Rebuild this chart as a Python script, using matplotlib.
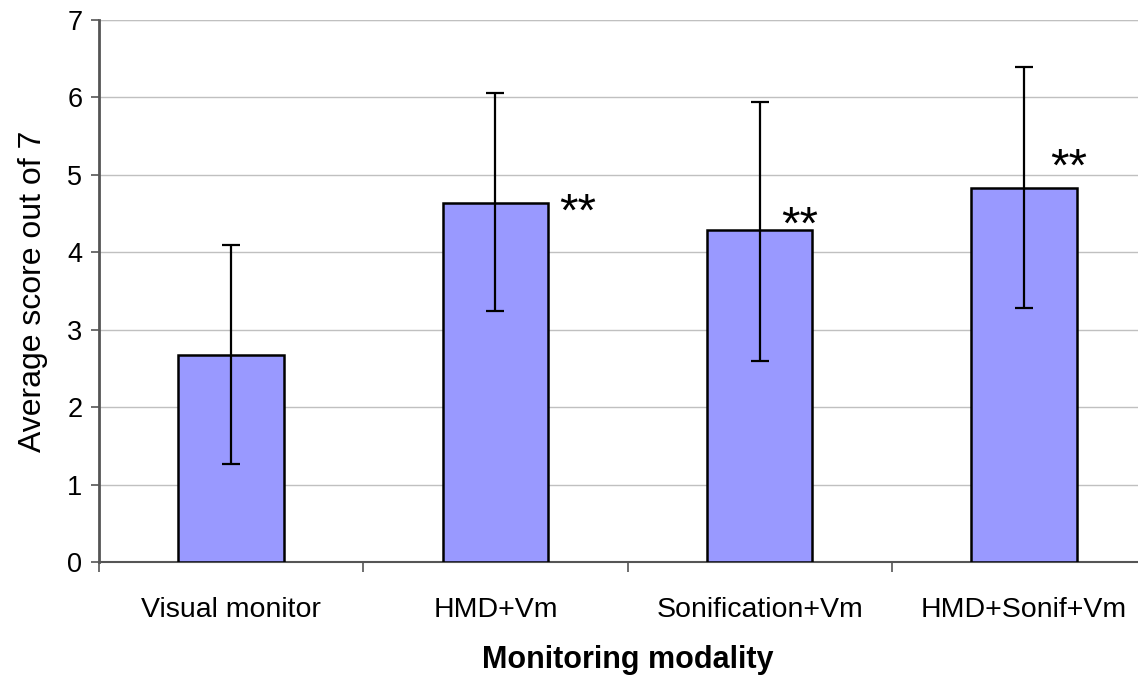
import matplotlib
matplotlib.use("Agg")
import matplotlib.pyplot as plt
import numpy as np

plt.rcParams['font.family'] = ['Liberation Sans', 'DejaVu Sans']

# data
categories = ['Visual monitor', 'HMD+Vm', 'Sonification+Vm', 'HMD+Sonif+Vm']
means = [2.67, 4.64, 4.29, 4.83]
err_low = [1.40, 1.40, 1.69, 1.55]
err_high = [1.43, 1.42, 1.65, 1.56]
marks = ['', '**', '**', '**']

# where the significance marks sit (baseline), relative to each bar top
mark_dx = [0.0, 0.31, 0.15, 0.17]
mark_dy = [0.0, -0.30, -0.12, 0.09]

fig = plt.figure(figsize=(11.38, 6.8), dpi=100)
ax = fig.add_axes([99 / 1138, 1 - 562 / 680, 1057 / 1138, 542 / 680])

x = np.arange(len(categories))
ax.bar(x, means, width=0.40, color='#9999ff', edgecolor='black', linewidth=1.8, zorder=3)
ax.errorbar(x, means, yerr=[err_low, err_high], fmt='none', ecolor='black',
            elinewidth=1.6, capsize=6.8, capthick=1.6, zorder=4)

for i, m in enumerate(marks):
    if m:
        ax.text(i + mark_dx[i], means[i] + mark_dy[i], m, fontsize=34,
                ha='center', va='baseline', zorder=5)

ax.set_xlim(-0.5, 3.5)
ax.set_ylim(0, 7)
ax.set_yticks(range(8))
ax.yaxis.grid(True, color='#c0c0c0', linewidth=1.0, zorder=0)
ax.axhline(7, color='#808080', linewidth=1.5, zorder=1)

ax.set_xticks(x)
ax.set_xticklabels(categories, fontsize=20.5)
ax.set_xticks(np.arange(-0.5, 4.0, 1.0), minor=True)
ax.tick_params(axis='x', which='major', length=0, pad=25)
ax.tick_params(axis='x', which='minor', length=7, width=1.2, color='#555555')
ax.tick_params(axis='y', length=6, width=1.2, color='#555555', labelsize=19.5, pad=6)

for s in ['top', 'right']:
    ax.spines[s].set_visible(False)
ax.spines['left'].set_color('#555555')
ax.spines['left'].set_linewidth(2)
ax.spines['bottom'].set_color('#555555')
ax.spines['bottom'].set_linewidth(1.5)

ax.set_ylabel('Average score out of 7', fontsize=23, labelpad=14)
ax.set_xlabel('Monitoring modality', fontsize=22, fontweight='bold', labelpad=16)

fig.savefig('out.png', dpi=100)
